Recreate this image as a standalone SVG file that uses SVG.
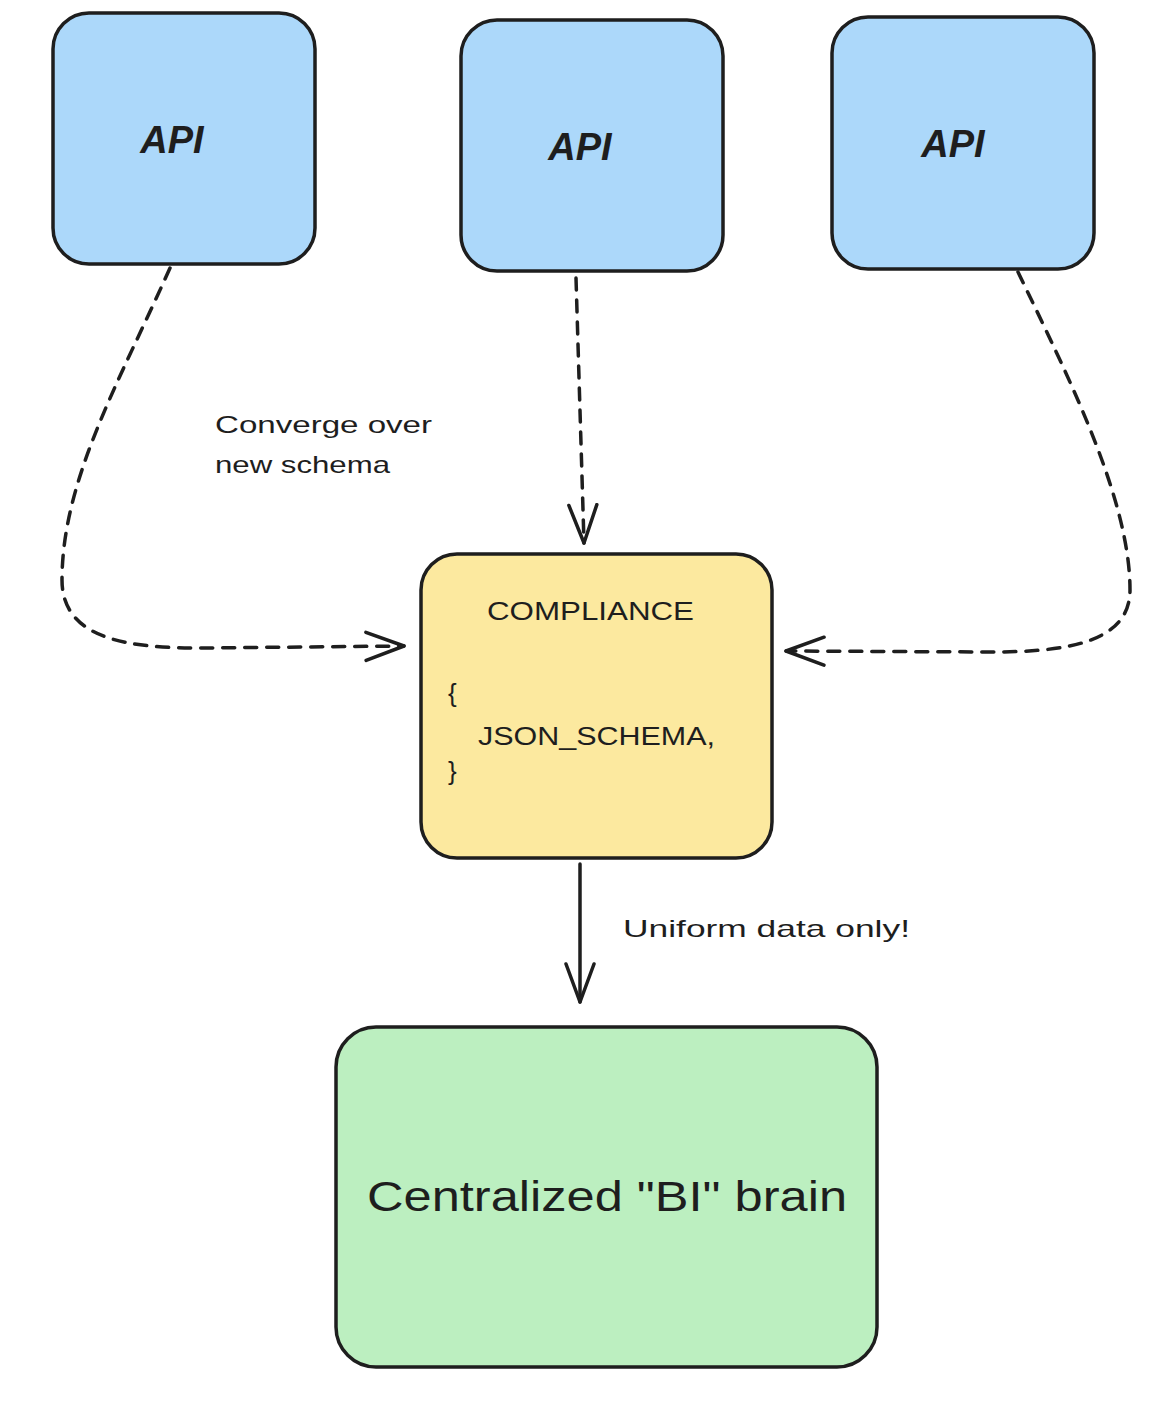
<svg xmlns="http://www.w3.org/2000/svg" width="1174" height="1402" viewBox="0 0 1174 1402">
<defs>
<style>
.box{stroke:#1e1e1e;stroke-width:3.5;}
.api{fill:#acd8fa;}
.yel{fill:#fce99f;}
.grn{fill:#bcefc0;}
.t{font-family:"Liberation Sans","Noto Sans",sans-serif;fill:#1e1e1e;}
.conn{fill:none;stroke:#1e1e1e;stroke-width:3.5;stroke-linecap:round;stroke-linejoin:round;}
.dash{stroke-dasharray:12 10;}
</style>
<marker id="ah" viewBox="-40 -20 44 40" refX="0" refY="0" markerWidth="44" markerHeight="40" markerUnits="userSpaceOnUse" orient="auto">
<path d="M-38,-14 L0,0 L-38,14" fill="none" stroke="#1e1e1e" stroke-width="3.5" stroke-linecap="round" stroke-linejoin="round"/>
</marker>
</defs>
<rect width="1174" height="1402" fill="#ffffff"/>
<g id="api1">
<rect class="box api" x="53" y="13" width="262" height="251" rx="36"/>
<text class="t" x="172" y="153" font-size="38" font-style="italic" font-weight="bold" text-anchor="middle">API</text>
</g>
<g id="api2">
<rect class="box api" x="461" y="20" width="262" height="251" rx="36"/>
<text class="t" x="580" y="160" font-size="38" font-style="italic" font-weight="bold" text-anchor="middle">API</text>
</g>
<g id="api3">
<rect class="box api" x="832" y="17" width="262" height="252" rx="36"/>
<text class="t" x="953" y="157" font-size="38" font-style="italic" font-weight="bold" text-anchor="middle">API</text>
</g>
<g id="compliance">
<rect class="box yel" x="421" y="554" width="351" height="304" rx="36"/>
<text class="t" x="487" y="620" font-size="26" textLength="207" lengthAdjust="spacingAndGlyphs">COMPLIANCE</text>
<text class="t" x="448" y="702" font-size="26">{</text>
<text class="t" x="478" y="745" font-size="26" textLength="237" lengthAdjust="spacingAndGlyphs">JSON_SCHEMA,</text>
<text class="t" x="448" y="780" font-size="26">}</text>
</g>
<g id="brain">
<rect class="box grn" x="336" y="1027" width="541" height="340" rx="40"/>
<text class="t" x="367" y="1211" font-size="42" textLength="480" lengthAdjust="spacingAndGlyphs">Centralized "BI" brain</text>
</g>
<g id="connectors">
<path class="conn dash" d="M170,268 C120,380 62,480 62,580 C62,640 130,648 200,648 L404,646" marker-end="url(#ah)"/>
<path class="conn dash" d="M576,278 L584,543" marker-end="url(#ah)"/>
<path class="conn dash" d="M1018,272 C1070,380 1130,500 1130,590 C1130,645 1060,652 990,652 L786,651" marker-end="url(#ah)"/>
<path class="conn" d="M580,864 L580,1002" marker-end="url(#ah)"/>
<text class="t" x="215" y="433" font-size="24" textLength="217" lengthAdjust="spacingAndGlyphs">Converge over</text>
<text class="t" x="215" y="473" font-size="24" textLength="175" lengthAdjust="spacingAndGlyphs">new schema</text>
<text class="t" x="623" y="937" font-size="24" textLength="287" lengthAdjust="spacingAndGlyphs">Uniform data only!</text>
</g>
</svg>
